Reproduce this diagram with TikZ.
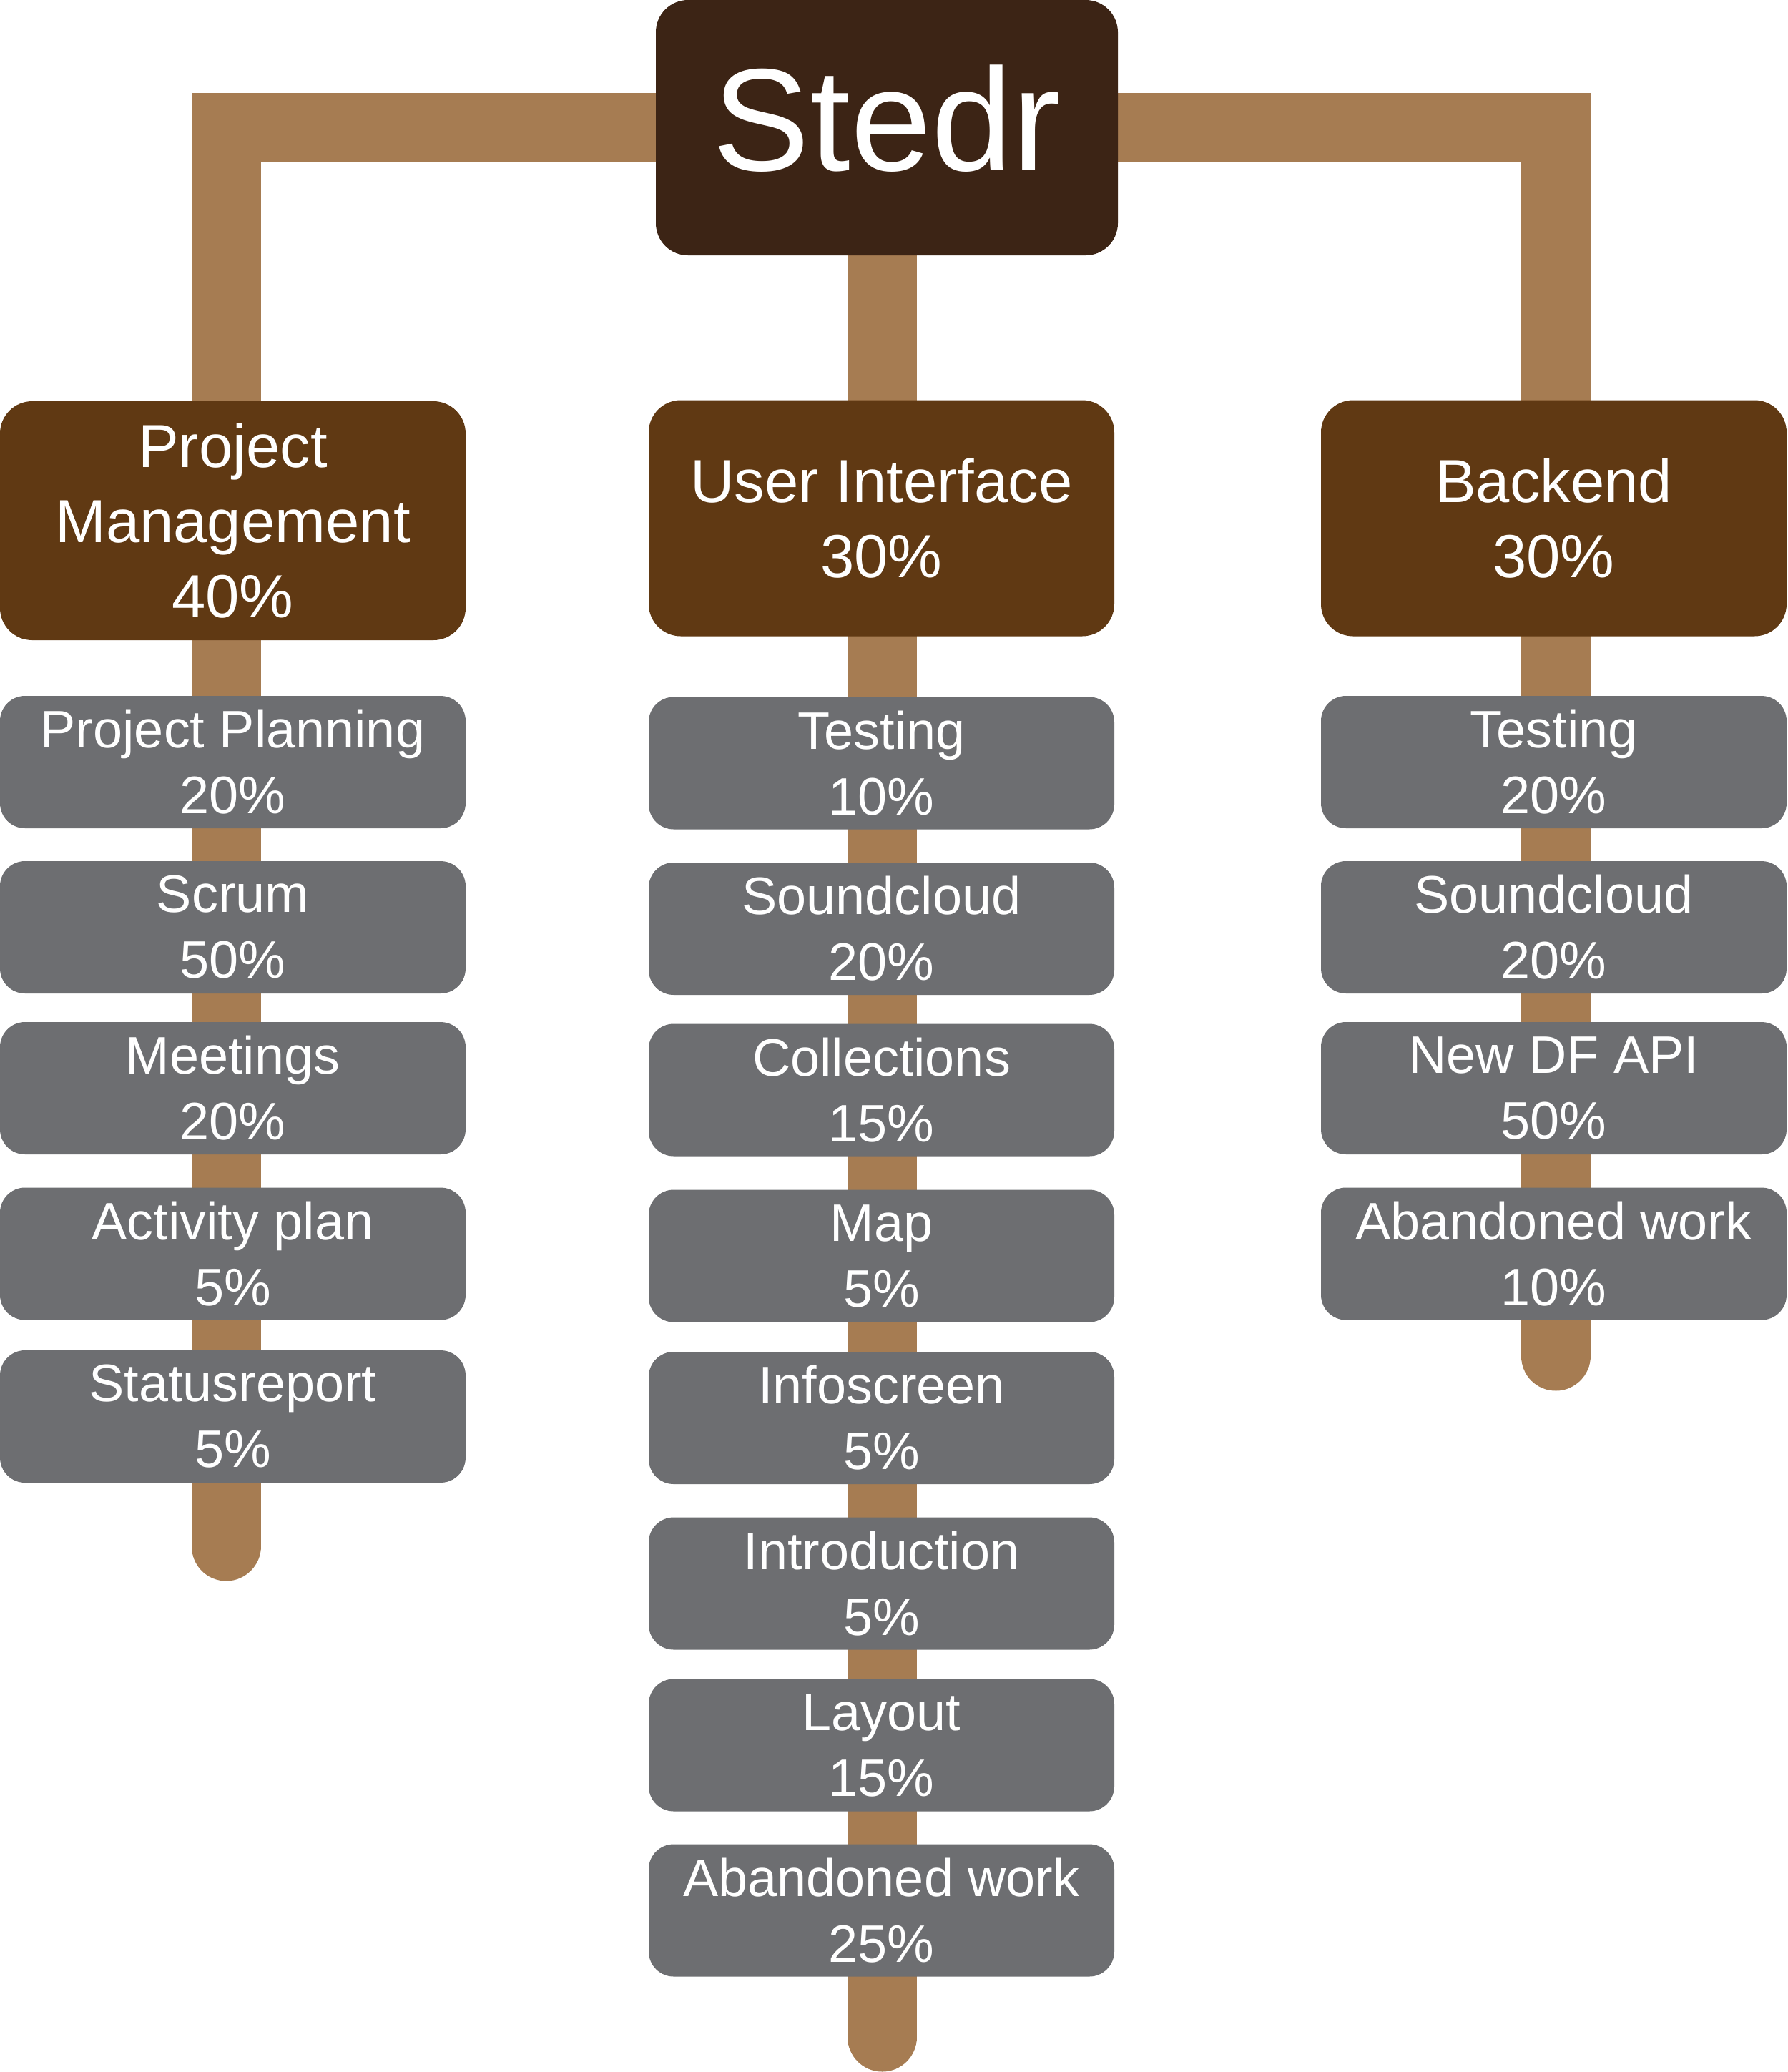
\documentclass[tikz,border=0pt]{standalone}
\usepackage{fontspec}
\setmainfont{Liberation Sans}
\usepackage{tikz}
\usetikzlibrary{backgrounds}
\definecolor{RootBrown}{HTML}{3C2415}
\definecolor{TopicBrown}{HTML}{603913}
\definecolor{Trunk}{HTML}{A67C52}
\definecolor{TaskGrey}{HTML}{6D6E71}

\begin{document}
\begin{tikzpicture}[
  rootbox/.style={fill=RootBrown,rounded corners=0.45cm,minimum width=6.46cm,minimum height=3.57cm,inner sep=0,text=white,font=\fontsize{58}{70}\selectfont},
  topicbox/.style={fill=TopicBrown,rounded corners=0.45cm,minimum width=6.51cm,minimum height=3.3cm,inner sep=0,text=white,align=center,font=\fontsize{24.2}{29.9}\selectfont},
  taskbox/.style={fill=TaskGrey,rounded corners=0.35cm,minimum width=6.51cm,minimum height=1.85cm,inner sep=0,text=white,align=center,font=\fontsize{21}{26.2}\selectfont},
  trunk/.style={Trunk,line width=0.97cm,line cap=round}]
\useasboundingbox (0,0) rectangle (25,-28.97);
% Root
\node (root) at (12.40,-1.785) [rootbox,text depth=0.28cm] {Stedr};
% Topics
\node (pm) at (3.255,-7.28) [topicbox,minimum height=3.34cm] {Project\\Management\\40\%};
\node (ui) at (12.325,-7.245) [topicbox] {User Interface\\30\%};
\node (be) at (21.725,-7.245) [topicbox] {Backend\\30\%};
% Project management tasks
\node (pm1) at (3.255,-10.655) [taskbox] {Project Planning\\20\%};
\node (pm2) at (3.255,-12.965) [taskbox] {Scrum\\50\%};
\node (pm3) at (3.255,-15.215) [taskbox] {Meetings\\20\%};
\node (pm4) at (3.255,-17.53) [taskbox] {Activity plan\\5\%};
\node (pm5) at (3.255,-19.805) [taskbox] {Statusreport\\5\%};
% User interface tasks
\node (ui1) at (12.325,-10.67) [taskbox] {Testing\\10\%};
\node (ui2) at (12.325,-12.985) [taskbox] {Soundcloud\\20\%};
\node (ui3) at (12.325,-15.24) [taskbox] {Collections\\15\%};
\node (ui4) at (12.325,-17.56) [taskbox] {Map\\5\%};
\node (ui5) at (12.325,-19.825) [taskbox] {Infoscreen\\5\%};
\node (ui6) at (12.325,-22.14) [taskbox] {Introduction\\5\%};
\node (ui7) at (12.325,-24.40) [taskbox] {Layout\\15\%};
\node (ui8) at (12.325,-26.71) [taskbox] {Abandoned work\\25\%};
% Backend tasks
\node (be1) at (21.725,-10.655) [taskbox] {Testing\\20\%};
\node (be2) at (21.725,-12.965) [taskbox] {Soundcloud\\20\%};
\node (be3) at (21.725,-15.215) [taskbox] {New DF API\\50\%};
\node (be4) at (21.725,-17.53) [taskbox] {Abandoned work\\10\%};
% Trunk ends
\coordinate (pmend) at (3.16,-21.62);
\coordinate (uiend) at (12.335,-28.48);
\coordinate (beend) at (21.75,-18.96);
% Trunks
\begin{pgfonlayer}{background}
\draw [trunk] (root.west) -| (pmend);
\draw [trunk] (uiend |- root) -- (uiend);
\draw [trunk] (root.east) -| (beend);
\end{pgfonlayer}
\end{tikzpicture}
\end{document}
